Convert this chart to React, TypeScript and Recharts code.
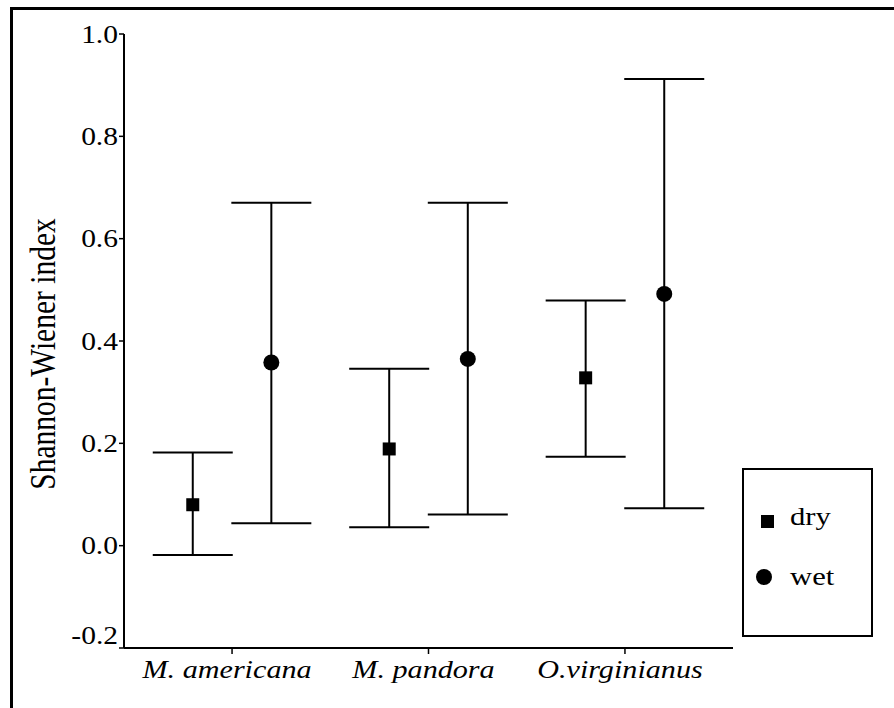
import { ScatterChart, Scatter, XAxis, YAxis, ErrorBar, Legend } from "recharts";

const species = ["M. americana", "M. pandora", "O.virginianus"];

const dryMean = [0.08, 0.189, 0.328];
const dryLow = [-0.018, 0.036, 0.174];
const dryHigh = [0.182, 0.346, 0.479];

const wetMean = [0.358, 0.365, 0.492];
const wetLow = [0.044, 0.061, 0.073];
const wetHigh = [0.67, 0.67, 0.912];

const yTicks = [-0.2, 0, 0.2, 0.4, 0.6, 0.8, 1.0];
const xTicks = [1, 2, 3];

const DODGE = 0.2;
const FONT = "Liberation Serif, Times New Roman, serif";
const STRETCH = 1.18;

const toPoints = (mean: number[], low: number[], high: number[], shift: number) =>
  mean.map((m, i) => ({ x: i + 1 + shift, y: m, err: [m - low[i], high[i] - m] }));

const dryData = toPoints(dryMean, dryLow, dryHigh, -DODGE);
const wetData = toPoints(wetMean, wetLow, wetHigh, DODGE);

function SquareDot(props: any) {
  const { cx, cy } = props;
  return <rect x={cx - 6.5} y={cy - 6.5} width={13} height={13} fill="#000" />;
}

function RoundDot(props: any) {
  const { cx, cy } = props;
  return <circle cx={cx} cy={cy} r={8} fill="#000" />;
}

function YTick(props: any) {
  const { x, y, payload } = props;
  const v = payload.value as number;
  // the bottom label sits a bit above its tick in the original
  const lift = v < -0.1 ? -13 : 0;
  return (
    <g transform={`translate(${x},${y + lift}) scale(${STRETCH},1)`}>
      <text textAnchor="end" dy="0.35em" fontSize={25} fontFamily={FONT} fill="#000">
        {v.toFixed(1)}
      </text>
    </g>
  );
}

function XTick(props: any) {
  const { x, y, payload } = props;
  return (
    <g transform={`translate(${x - 5},${y}) scale(1.16,1)`}>
      <text dy="0.71em" textAnchor="middle" fontSize={26} fontStyle="italic" fontFamily={FONT} fill="#000">
        {species[payload.value - 1]}
      </text>
    </g>
  );
}

function YLabel(props: any) {
  const { viewBox } = props;
  const cx = viewBox.x - 21;
  const cy = viewBox.y + viewBox.height / 2 + 13;
  return (
    <text
      transform={`translate(${cx},${cy}) scale(${STRETCH},1) rotate(-90)`}
      textAnchor="middle"
      dominantBaseline="central"
      fontSize={29.5}
      fontFamily={FONT}
      fill="#000"
    >
      Shannon-Wiener index
    </text>
  );
}

function LegendBox() {
  return (
    <svg width={131} height={169} style={{ display: "block" }}>
      <rect x={1} y={1} width={129} height={167} fill="#fff" stroke="#000" strokeWidth={2} />
      <rect x={19} y={47} width={13} height={13} fill="#000" />
      <text transform={`translate(48,57) scale(${STRETCH},1)`} fontSize={26} fontFamily={FONT} fill="#000">
        dry
      </text>
      <circle cx={22} cy={109} r={8} fill="#000" />
      <text transform={`translate(48,117) scale(${STRETCH},1)`} fontSize={26} fontFamily={FONT} fill="#000">
        wet
      </text>
    </svg>
  );
}

export default function App() {
  return (
    <div style={{ position: "absolute", left: 0, top: 0, width: 894, height: 708, overflow: "hidden", background: "#fff" }}>
      <div
        style={{
          position: "absolute",
          left: 10,
          top: 7,
          width: 900,
          height: 720,
          borderTop: "3px solid #000",
          borderLeft: "3px solid #000",
        }}
      />
      <ScatterChart width={894} height={708} margin={{ top: 34, right: 161, bottom: 30, left: 64 }} style={{ position: "absolute", left: 0, top: 0 }}>
        <XAxis
          type="number"
          dataKey="x"
          domain={[0.45, 3.55]}
          ticks={xTicks}
          interval={0}
          height={30}
          tickSize={6}
          tickMargin={6}
          axisLine={{ stroke: "#000", strokeWidth: 2 }}
          tickLine={{ stroke: "#000", strokeWidth: 1.5 }}
          tick={<XTick />}
        />
        <YAxis
          type="number"
          dataKey="y"
          domain={[-0.2, 1.0]}
          ticks={yTicks}
          interval={0}
          width={60}
          tickSize={5}
          tickMargin={1}
          axisLine={{ stroke: "#000", strokeWidth: 2 }}
          tickLine={{ stroke: "#000", strokeWidth: 1.5 }}
          tick={<YTick />}
          label={<YLabel />}
        />
        <Legend
          layout="vertical"
          align="center"
          verticalAlign="middle"
          content={<LegendBox />}
          wrapperStyle={{ left: 742, top: 468, width: 131, height: 169 }}
        />
        <Scatter name="dry" data={dryData} shape={<SquareDot />} isAnimationActive={false}>
          <ErrorBar dataKey="err" direction="y" width={40} stroke="#000" strokeWidth={2} isAnimationActive={false} />
        </Scatter>
        <Scatter name="wet" data={wetData} shape={<RoundDot />} isAnimationActive={false}>
          <ErrorBar dataKey="err" direction="y" width={40} stroke="#000" strokeWidth={2} isAnimationActive={false} />
        </Scatter>
      </ScatterChart>
    </div>
  );
}
